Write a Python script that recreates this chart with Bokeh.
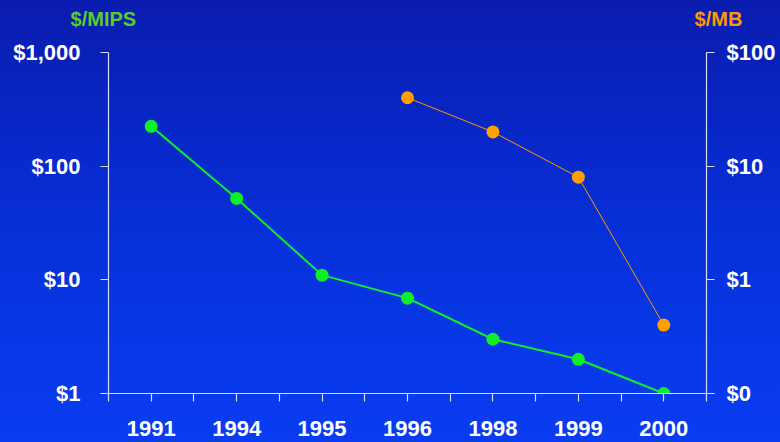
from bokeh.plotting import figure
from bokeh.models import (Range1d, LogAxis, FixedTicker, NumeralTickFormatter, Label, ColumnDataSource)
from bokeh.embed import file_html
from bokeh.resources import INLINE

years = ["1991", "1994", "1995", "1996", "1998", "1999", "2000"]
mips_cost = [224, 52, 11, 6.9, 3.0, 2.0, 1.0]
mb_years = ["1996", "1998", "1999", "2000"]
mb_cost = [40, 20, 8, 0.4]
left_ticks = [1, 10, 100, 1000]
right_ticks = [0.1, 1, 10, 100]

AX = "#d6ddf5"
FONT = "Liberation Sans"

x_mips = [years.index(y) + 0.5 for y in years]
x_mb = [years.index(y) + 0.5 for y in mb_years]

p = figure(width=780, height=442, output_backend="svg", toolbar_location=None,
           x_range=Range1d(0, len(years)), y_range=Range1d(1, 1000), y_axis_type="log",
           min_border_left=108, min_border_right=74, min_border_top=52, min_border_bottom=49)
p.extra_y_ranges = {"mb": Range1d(0.1, 100)}
p.background_fill_alpha = 0
p.border_fill_alpha = 0
p.outline_line_color = None
p.grid.visible = False

def style(ax, size="22px"):
    ax.axis_line_color = AX
    ax.axis_line_width = 1.2
    ax.major_tick_line_color = AX
    ax.major_tick_line_width = 1.2
    ax.major_tick_in = 0
    ax.major_tick_out = 8
    ax.minor_tick_line_color = None
    ax.major_label_text_color = "white"
    ax.major_label_text_font = FONT
    ax.major_label_text_font_style = "bold"
    ax.major_label_text_font_size = size

xax = p.xaxis[0]
style(xax)
xt = [i * 0.5 for i in range(2 * len(years) + 1)]
xax.ticker = FixedTicker(ticks=xt)
overrides = {}
for t in xt:
    overrides[t] = ""
for i, y in enumerate(years):
    overrides[i + 0.5] = y
xax.major_label_overrides = overrides
xax.major_label_standoff = 19

yax = p.yaxis[0]
style(yax)
yax.ticker = FixedTicker(ticks=left_ticks)
yax.formatter = NumeralTickFormatter(format="$0,0")
yax.major_label_standoff = 20

rax = LogAxis(y_range_name="mb")
style(rax)
rax.ticker = FixedTicker(ticks=right_ticks)
rax.formatter = NumeralTickFormatter(format="$0,0")
rax.major_label_standoff = 12
p.add_layout(rax, "right")

src1 = ColumnDataSource(dict(x=x_mips, y=mips_cost))
src2 = ColumnDataSource(dict(x=x_mb, y=mb_cost))
p.line("x", "y", source=src1, line_color="#10ee28", line_width=2)
p.scatter("x", "y", source=src1, size=13, fill_color="#10ee28", line_color=None)
p.line("x", "y", source=src2, line_color="#ff9a00", line_width=1, y_range_name="mb")
p.scatter("x", "y", source=src2, size=13, fill_color="#ffa000", line_color=None, y_range_name="mb")

p.add_layout(Label(x=-0.06, y=1990, text="$/MIPS", text_color="#5ccc2c", text_font=FONT,
                   text_font_style="bold", text_font_size="20px", text_align="center",
                   text_baseline="middle"), "above")
p.add_layout(Label(x=7.14, y=1990, text="$/MB", text_color="#ff9900", text_font=FONT,
                   text_font_style="bold", text_font_size="20px", text_align="center",
                   text_baseline="middle"), "above")

html = file_html(p, INLINE)
css = ("<style>html,body{margin:0;padding:0;height:100%;}"
       "body{background:linear-gradient(180deg,#0a1cae 0%,#0829cc 35%,#0634e0 65%,#0a3cf2 100%);}</style>")
html = html.replace("<head>", "<head>" + css, 1)
open("out.html", "w").write(html)
